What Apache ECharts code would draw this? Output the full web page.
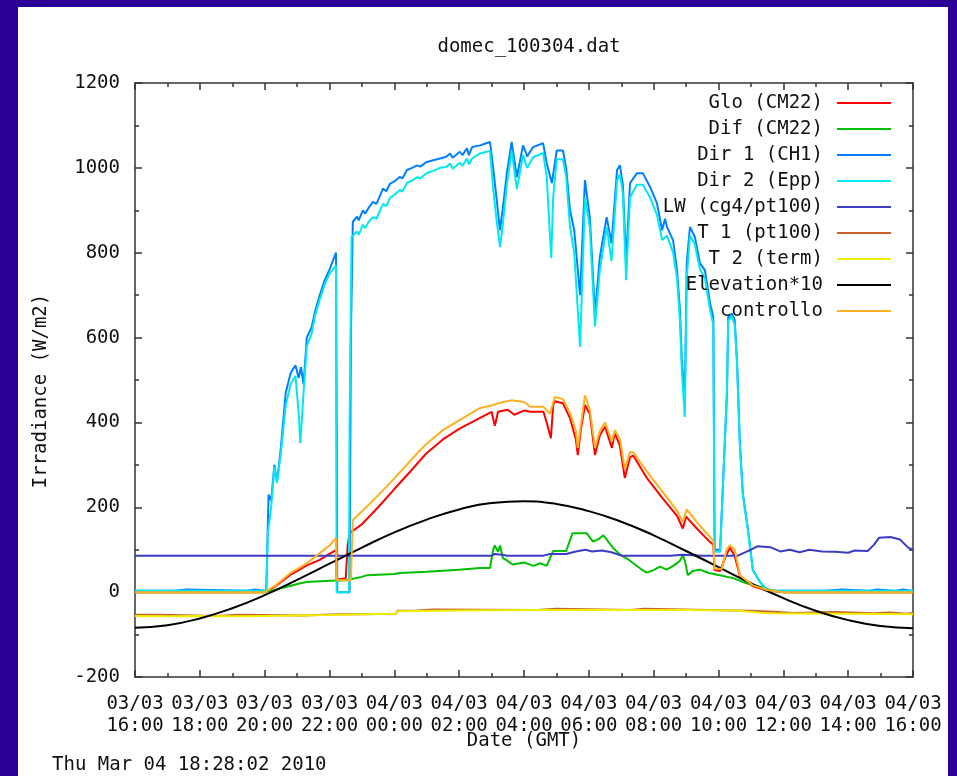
<!DOCTYPE html>
<html>
<head>
<meta charset="utf-8">
<title>domec_100304.dat</title>
<script src="https://cdn.jsdelivr.net/npm/echarts@6.0.0/dist/echarts.min.js"></script>
<style>
html, body { margin: 0; padding: 0; background: #2a0096; }
#main { width: 957px; height: 776px; }
</style>
</head>
<body>
<div id="main"></div>
<script>
// time = hours since 03/03 00:00 (16 -> 03/03 16:00, 40 -> 04/03 16:00)

var glo = [
	[16,0],[20.0,0],[20.3,12],[20.78,40],[21.3,63],[21.7,76],[22.0,90],[22.2,99],[22.22,30],[22.5,32],[22.56,110],[22.62,139],
	[23.0,160],[23.5,200],[24.0,243],[24.5,285],[24.8,311],[25.0,328],[25.5,360],[26.0,385],[26.5,405],[27.0,425],[27.1,392],
	[27.2,425],[27.5,430],[27.7,418],[28.0,428],[28.2,425],[28.6,425],[28.7,400],[28.83,363],[28.9,440],[28.95,450],[29.2,445],
	[29.42,410],[29.6,360],[29.66,323],[29.75,380],[29.88,441],[30.03,420],[30.19,323],[30.34,370],[30.5,390],[30.71,340],
	[30.8,375],[30.96,345],[31.11,269],[31.27,318],[31.37,322],[31.78,270],[32.29,220],[32.72,180],[32.9,150],[33.0,178],
	[33.33,150],[33.74,118],[33.84,112],[33.88,52],[34.05,50],[34.2,80],[34.35,105],[34.5,85],[34.66,38],[35.06,14],[35.5,4],[36,0],[40,0]
];

var controllo = [
	[16,0],[20.0,0],[20.3,14],[20.78,44],[21.3,68],[21.7,92],[22.0,110],[22.2,127],[22.22,28],[22.66,28],[22.72,170],
	[23.0,190],[23.5,228],[24.0,268],[24.5,310],[24.8,335],[25.0,350],[25.5,382],[26.0,405],[26.5,428],[26.64,434],[27.0,440],
	[27.2,445],[27.6,452],[28.0,448],[28.2,437],[28.6,437],[28.8,420],[28.95,460],[29.2,455],[29.42,422],[29.6,380],[29.66,340],
	[29.88,464],[30.03,430],[30.19,340],[30.34,380],[30.5,400],[30.71,355],[30.8,382],[30.96,360],[31.11,290],[31.27,330],
	[31.37,330],[31.78,285],[32.29,235],[32.72,192],[32.9,165],[33.02,195],[33.33,165],[33.74,130],[33.84,120],[33.88,55],
	[34.1,55],[34.25,100],[34.35,111],[34.5,100],[34.66,40],[35.06,16],[35.5,5],[36,0],[40,0]
];

var dif = [
	[16,0],[20.0,0],[20.3,5],[20.8,15],[21.1,21],[21.3,24],[22.0,27],[22.5,28],[23.0,36],[23.16,40],[24.0,43],[24.17,45],
	[25.0,48],[26.0,53],[26.64,57],[26.95,57],[27.05,100],[27.1,110],[27.2,95],[27.26,110],[27.35,80],[27.47,75],[27.65,65],
	[28.0,70],[28.3,62],[28.5,68],[28.7,62],[28.9,97],[29.3,97],[29.5,139],[29.93,139],[30.13,119],[30.3,125],[30.45,134],
	[30.75,104],[30.96,89],[31.2,78],[31.37,68],[31.6,55],[31.78,46],[32.0,52],[32.19,60],[32.4,53],[32.6,62],[32.8,73],
	[32.9,87],[32.97,72],[33.05,40],[33.2,50],[33.43,53],[33.7,45],[34.04,40],[34.45,33],[34.86,21],[35.28,13],[35.6,5],[36,0],[40,0]
];

var dir1 = [
	[16,3],[17.2,3],[17.25,6],[17.6,6],[17.65,3],[19.4,3],[19.45,6],[19.7,6],[19.75,3],[20.05,3],
	[20.12,230],[20.2,215],[20.3,300],[20.38,260],[20.5,340],[20.65,470],[20.8,516],[20.95,535],[21.05,505],[21.12,530],
	[21.2,490],[21.3,600],[21.45,625],[21.55,660],[21.7,700],[21.85,735],[22.0,760],[22.2,800],[22.22,430],[22.24,0],[22.62,0],
	[22.66,600],[22.72,873],[22.85,885],[22.9,876],[23.03,900],[23.1,892],[23.2,905],[23.34,920],[23.45,915],[23.65,951],
	[23.75,945],[23.87,963],[24.0,968],[24.17,979],[24.25,975],[24.39,995],[24.55,1000],[24.7,1006],[24.8,1003],[25.0,1014],
	[25.2,1018],[25.41,1022],[25.6,1026],[25.72,1034],[25.8,1024],[26.02,1038],[26.1,1030],[26.24,1046],[26.3,1030],[26.4,1049],
	[26.64,1053],[26.95,1061],[27.05,1000],[27.15,930],[27.26,853],[27.35,907],[27.47,987],[27.62,1061],[27.78,978],[27.97,1053],
	[28.1,1027],[28.28,1049],[28.59,1058],[28.7,1011],[28.86,964],[29.01,1041],[29.2,1041],[29.3,1000],[29.42,900],[29.55,853],
	[29.73,700],[29.88,971],[30.03,884],[30.19,657],[30.34,790],[30.55,884],[30.7,822],[30.87,995],[30.96,1006],[31.05,960],
	[31.15,780],[31.27,964],[31.48,987],[31.67,987],[31.89,955],[32.1,917],[32.26,853],[32.35,880],[32.41,861],[32.6,829],
	[32.72,759],[32.81,665],[32.87,547],[32.96,450],[33.02,775],[33.12,861],[33.27,837],[33.43,775],[33.58,759],[33.74,681],
	[33.84,648],[33.88,100],[34.05,100],[34.14,257],[34.26,469],[34.3,648],[34.41,657],[34.5,641],[34.57,547],[34.66,351],
	[34.75,233],[34.9,153],[35.06,52],[35.28,24],[35.5,4],[36,3],[37.3,3],[37.35,6],[37.8,6],[37.85,3],[38.6,3],[38.65,6],
	[38.9,6],[38.95,3],[39.4,3],[39.45,6],[39.7,6],[39.75,3],[40,3]
];

var dir2 = [
	[16,3],[20.05,3],[20.1,139],[20.2,200],[20.3,295],[20.38,257],[20.5,328],[20.65,440],[20.8,490],[20.95,510],[21.05,420],
	[21.1,351],[21.2,470],[21.3,580],[21.45,610],[21.55,650],[21.7,690],[21.85,725],[22.0,750],[22.2,770],[22.22,0],[22.6,0],
	[22.62,400],[22.68,837],[22.85,850],[22.9,842],[23.03,866],[23.1,858],[23.2,872],[23.34,884],[23.45,880],[23.65,915],
	[23.75,910],[23.87,930],[24.0,936],[24.17,948],[24.25,944],[24.39,965],[24.55,970],[24.7,978],[24.8,975],[25.0,988],
	[25.2,993],[25.41,1000],[25.6,1002],[25.72,1010],[25.8,998],[26.02,1012],[26.1,1005],[26.24,1022],[26.3,1008],[26.4,1022],
	[26.64,1034],[26.95,1040],[27.05,950],[27.15,880],[27.26,813],[27.35,870],[27.47,960],[27.62,1040],[27.78,950],[27.97,1030],
	[28.1,1000],[28.28,1025],[28.59,1035],[28.7,980],[28.84,787],[28.9,930],[29.01,1020],[29.2,1020],[29.3,980],[29.42,860],
	[29.55,800],[29.73,578],[29.88,930],[30.03,860],[30.19,626],[30.34,760],[30.55,860],[30.7,780],[30.87,970],[30.96,985],
	[31.05,940],[31.15,735],[31.27,930],[31.48,960],[31.67,960],[31.89,930],[32.1,890],[32.26,830],[32.41,840],[32.6,800],
	[32.72,740],[32.81,640],[32.87,520],[32.96,413],[33.02,740],[33.12,840],[33.27,820],[33.43,760],[33.58,740],[33.74,665],
	[33.84,630],[33.88,95],[34.05,95],[34.14,257],[34.26,469],[34.3,640],[34.41,650],[34.5,630],[34.57,540],[34.66,345],
	[34.75,230],[34.9,150],[35.06,52],[35.28,24],[35.5,4],[36,3],[40,3]
];

var lw = [
	[16,86],[19.5,86],[19.55,89],[19.6,86],[22.3,86],[22.35,89],[22.4,86],[27.0,86],[27.1,90],[27.3,88],[27.5,86],[28.6,86],
	[28.8,90],[29.3,90],[29.6,96],[29.9,100],[30.1,96],[30.4,98],[30.7,94],[31.0,86],[32.5,86],[32.9,88],[33.5,86],[34.6,86],
	[34.85,95],[35.0,100],[35.2,108],[35.6,106],[35.9,96],[36.2,100],[36.5,94],[36.8,100],[37.2,96],[37.6,95],[38.0,93],
	[38.2,98],[38.6,97],[38.8,112],[38.95,128],[39.3,130],[39.6,124],[39.85,105],[40.0,100]
];

var t1 = [
	[16,-53],[16.8,-53],[16.85,-56],[18.5,-56],[18.55,-53],[19.2,-53],[19.25,-56],[21.2,-55],[21.25,-52],[22.3,-52],[22.35,-54],
	[23,-52],[24.05,-51],[24.1,-44],[24.6,-44],[24.65,-41],[25.2,-41],[25.25,-43],[28.4,-42],[28.45,-39],[29.0,-39],[29.05,-42],
	[31.3,-42],[31.35,-39],[31.7,-39],[31.75,-42],[34.5,-43],[35.0,-44],[35.05,-46],[35.7,-46],[35.75,-49],[36.3,-49],
	[36.35,-47],[37.6,-47],[37.65,-50],[38.8,-50],[38.85,-48],[39.3,-48],[39.35,-51],[39.8,-51],[39.85,-49],[40,-49]
];

var t2 = [
	[16,-56],[17,-57],[18,-56],[19,-57],[20,-56],[21,-55],[22,-54],[23,-52],[24.05,-51],[24.1,-45],[26,-43],[28,-42],
	[31,-42],[33,-42],[34.5,-43],[35.5,-50],[38,-51],[40,-52]
];

var elevation = [
	[16,-84],[17,-78],[18,-62],[19,-38],[20,-7],[21,29],[22,67],[23,105],[24,141],[25,171],[26,195],[27,210],[28,214],
	[29,208],[30,191],[31,166],[32,134],[33,97],[34,59],[35,21],[36,-14],[37,-44],[38,-66],[39,-80],[40,-85]
];

var seriesNames = ['Glo (CM22)','Dif (CM22)','Dir 1 (CH1)','Dir 2 (Epp)','LW (cg4/pt100)','T 1 (pt100)','T 2 (term)','Elevation*10','controllo'];
var seriesData = [glo, dif, dir1, dir2, lw, t1, t2, elevation, controllo];
var seriesColors = ['#ff0000','#00c000','#0080ff','#00e8f0','#3b3bc4','#c8602c','#eeee00','#000000','#ffb020'];

var FONT = 'DejaVu Sans Mono';

function pad2(n) { return (n < 10 ? '0' : '') + n; }

var myChart = echarts.init(document.getElementById('main'));

var series = [];
for (var i = 0; i < seriesNames.length; i++) {
	series.push({
		name: seriesNames[i],
		type: 'line',
		data: seriesData[i],
		showSymbol: false,
		symbol: 'none',
		smooth: seriesNames[i] === 'Elevation*10',
		lineStyle: { width: 2, color: seriesColors[i] },
		itemStyle: { color: seriesColors[i] },
		emphasis: { disabled: true }
	});
}

// gnuplot style: box border with inward ticks on all four sides
var tickCommon = { inside: true, length: 7, lineStyle: { color: '#333', width: 1.5 } };
var minorCommon = { show: true, splitNumber: 2, length: 4, lineStyle: { color: '#333', width: 1.5 } };
var lineCommon = { show: true, onZero: false, lineStyle: { color: '#333', width: 1.5 } };

var option = {
	animation: false,
	backgroundColor: '#2a0096',
	graphic: [
		{ type: 'rect', z: -10, shape: { x: 18, y: 7, width: 930, height: 769 }, style: { fill: '#ffffff' } },
		{ type: 'text', left: 52, top: 756, style: { text: 'Thu Mar 04 18:28:02 2010', fontFamily: FONT, fontSize: 19, fill: '#111' } },
		{
			type: 'text', x: 41, y: 391, rotation: Math.PI / 2,
			style: { text: 'Irradiance (W/m2)', fontFamily: FONT, fontSize: 19, fill: '#111', align: 'center', verticalAlign: 'middle' }
		}
	],
	title: {
		text: 'domec_100304.dat',
		left: 524,
		top: 33,
		textAlign: 'center',
		textStyle: { fontFamily: FONT, fontSize: 19, fontWeight: 'normal', color: '#111' }
	},
	legend: {
		orient: 'vertical',
		right: 61,
		top: 88,
		align: 'right',
		icon: 'rect',
		itemWidth: 54,
		itemHeight: 2,
		itemGap: 6,
		selectedMode: false,
		data: seriesNames,
		textStyle: { fontFamily: FONT, fontSize: 19, lineHeight: 20, color: '#111', padding: [0, 9, 0, 0] }
	},
	grid: { left: 135, top: 83, width: 778, height: 594, show: false },
	xAxis: [
		{
			type: 'value', min: 16, max: 40, interval: 2,
			name: 'Date (GMT)', nameLocation: 'middle', nameGap: 55, nameMoveOverlap: false,
			nameTextStyle: { fontFamily: FONT, fontSize: 19, color: '#111' },
			axisLine: lineCommon, axisTick: tickCommon, minorTick: minorCommon,
			splitLine: { show: false },
			axisLabel: {
				fontFamily: FONT, fontSize: 19, lineHeight: 22, color: '#111', margin: 16,
				formatter: function (v) {
					var day = v < 24 ? '03/03' : '04/03';
					return day + '\n' + pad2(v % 24) + ':00';
				}
			}
		},
		{
			type: 'value', min: 16, max: 40, interval: 2, position: 'top',
			axisLine: lineCommon, axisTick: tickCommon, minorTick: minorCommon,
			splitLine: { show: false }, axisLabel: { show: false }
		}
	],
	yAxis: [
		{
			type: 'value', min: -200, max: 1200, interval: 200,
			axisLine: lineCommon, axisTick: tickCommon, minorTick: minorCommon,
			splitLine: { show: false },
			axisLabel: { fontFamily: FONT, fontSize: 19, color: '#111', margin: 15, formatter: function (v) { return String(v); } }
		},
		{
			type: 'value', min: -200, max: 1200, interval: 200, position: 'right',
			axisLine: lineCommon, axisTick: tickCommon, minorTick: minorCommon,
			splitLine: { show: false }, axisLabel: { show: false }
		}
	],
	series: series
};

myChart.setOption(option);
</script>
</body>
</html>
